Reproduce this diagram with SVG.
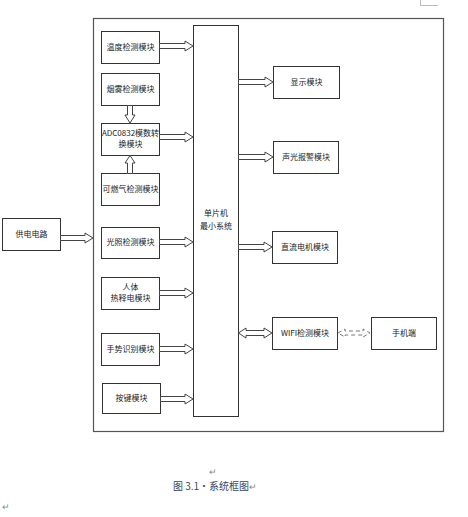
<svg xmlns="http://www.w3.org/2000/svg" width="468" height="517" viewBox="0 0 468 517">
<style>
.box{fill:#fff;stroke:#333;stroke-width:1}
.frame{fill:none;stroke:#555;stroke-width:1.2}
.arr{fill:#fff;stroke:#444;stroke-width:1}
.dash{fill:#fff;stroke:#777;stroke-width:1;stroke-dasharray:4,3}
.t{font-family:"Noto Sans CJK SC","Liberation Sans",sans-serif;font-size:8px;fill:#222;text-anchor:middle}
.cap{font-family:"Noto Sans CJK SC","Liberation Sans",sans-serif;font-size:10px;fill:#3a4660}
.mk{font-family:"Liberation Sans",sans-serif;font-size:9px;fill:#888}
</style>
<rect width="468" height="517" fill="#fff"/>
<path d="M420.5,0 V5.5 H438" fill="none" stroke="#bbb" stroke-width="1"/>
<rect class="frame" x="93.5" y="18.5" width="350" height="413"/>
<g id="mcu"><rect class="box" x="193.5" y="25.5" width="45" height="391"/><text class="t" x="216" y="216">单片机</text><text class="t" x="216" y="229">最小系统</text></g>
<g id="temp"><rect class="box" x="101.5" y="31.5" width="58" height="32"/><text class="t" x="130.5" y="50">温度检测模块</text></g>
<g id="smoke"><rect class="box" x="101.5" y="73.5" width="58" height="32"/><text class="t" x="130.5" y="92">烟雾检测模块</text></g>
<g id="adc"><rect class="box" x="101.5" y="123.5" width="58" height="32"/><text class="t" x="130.5" y="136">ADC0832模数转</text><text class="t" x="130.5" y="147">换模块</text></g>
<g id="gas"><rect class="box" x="101.5" y="173.5" width="58" height="32"/><text class="t" x="130.5" y="192">可燃气检测模块</text></g>
<g id="light"><rect class="box" x="101.5" y="227.5" width="58" height="31"/><text class="t" x="130.5" y="245">光照检测模块</text></g>
<g id="pir"><rect class="box" x="101.5" y="277.5" width="58" height="32"/><text class="t" x="130.5" y="290">人体</text><text class="t" x="130.5" y="301">热释电模块</text></g>
<g id="gesture"><rect class="box" x="101.5" y="333.5" width="58" height="32"/><text class="t" x="130.5" y="352">手势识别模块</text></g>
<g id="key"><rect class="box" x="102.5" y="383.5" width="58" height="30"/><text class="t" x="131.5" y="401">按键模块</text></g>
<g id="power"><rect class="box" x="2.5" y="218.5" width="58" height="32"/><text class="t" x="31.5" y="237">供电电路</text></g>
<g id="display"><rect class="box" x="273.5" y="66.5" width="66" height="32"/><text class="t" x="306.5" y="85">显示模块</text></g>
<g id="alarm"><rect class="box" x="273.5" y="141.5" width="65" height="32"/><text class="t" x="306" y="160">声光报警模块</text></g>
<g id="motor"><rect class="box" x="272.5" y="231.5" width="65" height="32"/><text class="t" x="305" y="250">直流电机模块</text></g>
<g id="wifi"><rect class="box" x="272.5" y="317.5" width="65" height="32"/><text class="t" x="305" y="336">WIFI检测模块</text></g>
<g id="phone"><rect class="box" x="371.5" y="317.5" width="65" height="32"/><text class="t" x="404" y="336">手机端</text></g>
<g id="connectors">
<path class="arr" d="M159.5,43.5 H185 V41 L193,46 L185,51 V48.5 H159.5 Z"/>
<path class="arr" d="M159.5,134.5 H185 V132 L193,137 L185,142 V139.5 H159.5 Z"/>
<path class="arr" d="M159.5,239.5 H185 V237 L193,242 L185,247 V244.5 H159.5 Z"/>
<path class="arr" d="M159.5,290.5 H185 V288 L193,293 L185,298 V295.5 H159.5 Z"/>
<path class="arr" d="M159.5,346.5 H185 V344 L193,349 L185,354 V351.5 H159.5 Z"/>
<path class="arr" d="M160.5,396.5 H185 V394 L193,399 L185,404 V401.5 H160.5 Z"/>
<path class="arr" d="M127.5,105.5 V115 H125 L130,123 L135,115 H132.5 V105.5 Z"/>
<path class="arr" d="M127.5,173.5 V163 H125 L130,155.5 L135,163 H132.5 V173.5 Z"/>
<path class="arr" d="M60.5,235.5 H85 V233 L93,238 L85,243 V240.5 H60.5 Z"/>
<path class="arr" d="M238.5,79.5 H265 V77 L273,82 L265,87 V84.5 H238.5 Z"/>
<path class="arr" d="M238.5,154.5 H265 V152 L273,157 L265,162 V159.5 H238.5 Z"/>
<path class="arr" d="M238.5,244.5 H264 V242 L272,247 L264,252 V249.5 H238.5 Z"/>
<path class="arr" d="M238.5,333 L246,328 V330.5 H264 V328 L272,333 L264,338 V335.5 H246 V338 Z"/>
<path class="dash" d="M338,333 L345,329 V331 H363 V329 L370,333 L363,337 V335 H345 V337 Z"/>
</g>
<text class="mk" x="209" y="475">↵</text>
<text class="cap" x="173" y="490">图 3.1·系统框图<tspan class="mk">↵</tspan></text>
<text class="mk" x="2" y="510">↵</text>
</svg>
